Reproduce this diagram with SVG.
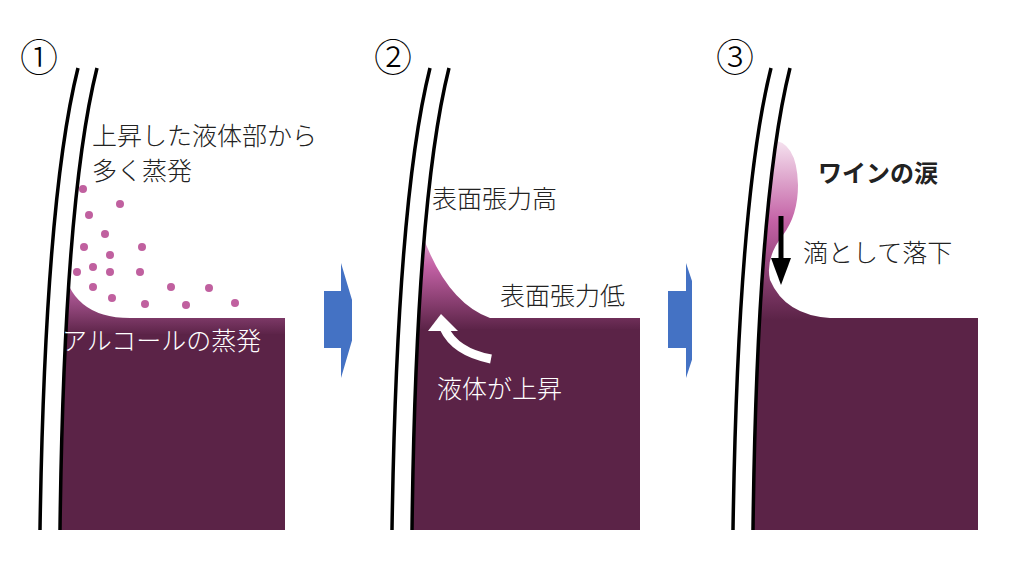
<svg xmlns="http://www.w3.org/2000/svg" width="1024" height="576" viewBox="0 0 1024 576">
<style>
.wine{fill:#5b2347}
.glass{fill:none;stroke:#000;stroke-width:3.5}
.t{font-family:"Noto Sans CJK JP","Noto Sans",sans-serif;font-size:25px;font-weight:300;fill:#222}
.b{font-weight:bold;font-size:24px}
.w{fill:#fff}
.dot{fill:#c0609f}
.num{font-family:"Noto Sans CJK JP",sans-serif;font-size:38px;font-weight:300;fill:#000}
.blue{fill:#4472c4}
</style>
<defs>
<linearGradient id="g1" gradientUnits="userSpaceOnUse" x1="0" y1="262" x2="0" y2="335"><stop offset="0" stop-color="#e8c0dc"/><stop offset="0.4" stop-color="#b05a98"/><stop offset="1" stop-color="#5b2347"/></linearGradient>
<linearGradient id="g2" gradientUnits="userSpaceOnUse" x1="0" y1="212" x2="0" y2="330"><stop offset="0" stop-color="#f6e4f0"/><stop offset="0.45" stop-color="#c462a6"/><stop offset="1" stop-color="#5b2347"/></linearGradient>
<linearGradient id="g3" gradientUnits="userSpaceOnUse" x1="0" y1="140" x2="0" y2="320"><stop offset="0" stop-color="#f6e4f0"/><stop offset="0.45" stop-color="#c462a6"/><stop offset="1" stop-color="#5b2347"/></linearGradient>
</defs>
<g id="panel1">
<path fill="url(#g1)" d="M50,262 L62,262 Q70,318 130,318 L285,318 L285,335 L50,335 Z"/>
<rect class="wine" x="50" y="334" width="235" height="196"/>
<path fill="#fff" d="M97,60 Q64,200 60,530 L60,576 L0,576 L0,60 Z"/>
<path class="glass" d="M78,68 Q45,200 40,530"/>
<path class="glass" d="M97,68 Q64,200 60,530"/>
<text class="num" x="20" y="71">①</text>
<g class="dot"><circle cx="83" cy="189" r="4"/><circle cx="120" cy="204" r="4"/><circle cx="89" cy="215" r="4"/><circle cx="105" cy="234" r="4"/><circle cx="84" cy="247" r="4"/><circle cx="142" cy="247" r="4"/><circle cx="110" cy="255" r="4"/><circle cx="93" cy="267" r="4"/><circle cx="77" cy="272" r="4"/><circle cx="110" cy="272" r="4"/><circle cx="140" cy="272" r="4"/><circle cx="93" cy="287" r="4"/><circle cx="171" cy="287" r="4"/><circle cx="209" cy="288" r="4"/><circle cx="112" cy="298" r="4"/><circle cx="145" cy="304" r="4"/><circle cx="186" cy="305" r="4"/><circle cx="235" cy="303" r="4"/></g>
<text class="t" x="92" y="145">上昇した液体部から</text>
<text class="t" x="92" y="180">多く蒸発</text>
<text class="t w" x="62" y="350">アルコールの蒸発</text>
</g>
<g id="arrow1"><path class="blue" d="M324,291 L341,291 L341,263 L358,320 L341,378 L341,348 L324,348 Z"/></g>
<g id="panel2">
<path fill="url(#g2)" d="M400,212 L415,212 Q440,300 490,318 L640,318 L640,330 L400,330 Z"/>
<rect class="wine" x="400" y="329" width="240" height="201"/>
<path fill="#fff" d="M449,60 Q416,200 412,530 L412,576 L352,576 L352,60 Z"/>
<path class="glass" d="M430,68 Q397,200 392,530"/>
<path class="glass" d="M449,68 Q416,200 412,530"/>
<text class="num" x="374" y="71">②</text>
<text class="t" x="432" y="208">表面張力高</text>
<text class="t" x="500" y="305">表面張力低</text>
<path d="M491,359 Q455,352 444,328" fill="none" stroke="#fff" stroke-width="9"/>
<path d="M441,314 L428,331 L458,331 Z" fill="#fff"/>
<text class="t w" x="437" y="398">液体が上昇</text>
</g>
<g id="arrow2"><path class="blue" d="M668,291 L686,291 L686,263 L705,320 L686,378 L686,348 L668,348 Z"/></g>
<g id="panel3">
<path fill="url(#g3)" d="M740,140 L770,140 Q797,140 798,185 Q798,215 783,235 Q765,258 770,280 Q785,315 830,318 L978,318 L978,325 L740,325 Z"/>
<rect class="wine" x="740" y="324" width="238" height="206"/>
<path fill="#fff" d="M790,60 Q757,200 753,530 L753,576 L692,576 L692,60 Z"/>
<path class="glass" d="M771,68 Q738,200 733,530"/>
<path class="glass" d="M790,68 Q757,200 753,530"/>
<text class="num" x="716" y="71">③</text>
<text class="t b" x="818" y="182">ワインの涙</text>
<text class="t" x="803" y="262">滴として落下</text>
<line x1="781" y1="216" x2="781" y2="262" stroke="#000" stroke-width="5"/>
<path d="M771,258 L791,258 L781,285 Z" fill="#000"/>
</g>
</svg>
